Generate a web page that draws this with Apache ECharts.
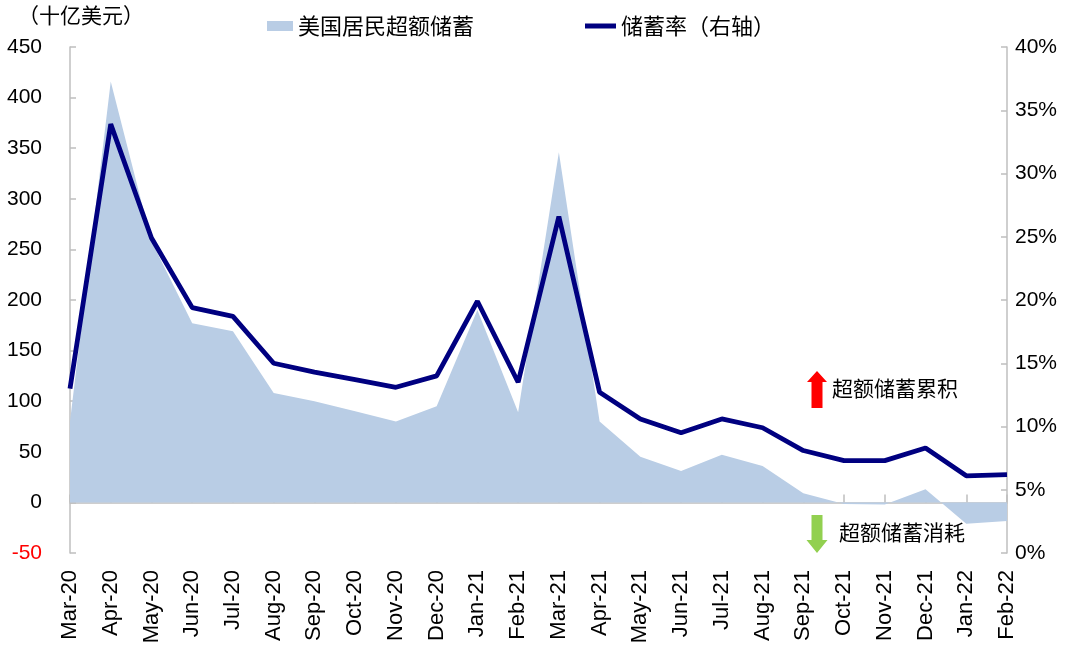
<!DOCTYPE html>
<html>
<head>
<meta charset="utf-8">
<script src="https://cdn.jsdelivr.net/npm/echarts@6/dist/echarts.min.js"></script>
<style>
html,body{margin:0;padding:0;background:#fff;}
#chart{width:1080px;height:663px;}
</style>
</head>
<body>
<div id="chart"></div>
<script>
const categories = ['Mar-20','Apr-20','May-20','Jun-20','Jul-20','Aug-20','Sep-20','Oct-20','Nov-20','Dec-20','Jan-21','Feb-21','Mar-21','Apr-21','May-21','Jun-21','Jul-21','Aug-21','Sep-21','Oct-21','Nov-21','Dec-21','Jan-22','Feb-22'];
const excessSavings = [80, 416, 258, 177, 169, 108, 100, 90, 80, 95, 190, 89, 346, 80, 45, 31, 47, 36, 9, -1.5, -2, 13, -21, -18.5];
const savingRate = [13.0, 33.9, 24.9, 19.4, 18.7, 15.0, 14.3, 13.7, 13.1, 14.0, 19.9, 13.5, 26.6, 12.7, 10.6, 9.5, 10.6, 9.9, 8.1, 7.3, 7.3, 8.3, 6.1, 6.2];
const leftTicks = {min: -50, max: 450, interval: 50};
const rightTicks = {min: 0, max: 40, interval: 5};
const seriesNames = ['美国居民超额储蓄', '储蓄率（右轴）'];

const numFont = '"Liberation Sans", Arial, sans-serif';
const cjkFont = '"Noto Sans CJK SC", sans-serif';
const axisGray = '#BFBFBF';

const chart = echarts.init(document.getElementById('chart'), null, {renderer: 'canvas'});
chart.setOption({
  animation: false,
  backgroundColor: '#ffffff',
  grid: {left: 70, right: 73, top: 47, bottom: 110, containLabel: false},
  legend: [
    {
      data: [{name: seriesNames[0], icon: 'rect'}],
      left: 262, top: 10, itemWidth: 26, itemHeight: 10, itemGap: 5,
      textStyle: {fontFamily: cjkFont, fontSize: 22, color: '#000'},
      itemStyle: {borderWidth: 0}
    },
    {
      data: [{name: seriesNames[1], icon: 'rect'}],
      left: 580, top: 10, itemWidth: 31, itemHeight: 5, itemGap: 5,
      textStyle: {fontFamily: cjkFont, fontSize: 22, color: '#000'},
      itemStyle: {borderWidth: 0}
    }
  ],
  xAxis: [
    {
      type: 'category', data: categories, boundaryGap: false, position: 'bottom',
      axisLine: {show: false, onZero: false},
      axisTick: {show: false},
      axisLabel: {rotate: 90, margin: 17, fontSize: 22, fontFamily: numFont, color: '#000', interval: 0}
    },
    {
      type: 'category', data: categories, boundaryGap: false, position: 'bottom',
      axisLine: {show: true, onZero: true, onZeroAxisIndex: 0, lineStyle: {color: axisGray, width: 1.5}},
      axisTick: {show: true, inside: true, length: 8, interval: 0, lineStyle: {color: axisGray, width: 1.5}},
      axisLabel: {show: false}
    }
  ],
  yAxis: [
    {
      type: 'value', position: 'left', min: leftTicks.min, max: leftTicks.max, interval: leftTicks.interval,
      splitLine: {show: false},
      axisLine: {show: true, lineStyle: {color: axisGray, width: 1.5}},
      axisTick: {show: true, inside: true, length: 6, lineStyle: {color: axisGray, width: 1.5}},
      axisLabel: {margin: 28, fontSize: 21, fontFamily: numFont,
        color: function (v) { return Number(v) < 0 ? '#FF0000' : '#000000'; }}
    },
    {
      type: 'value', position: 'right', min: rightTicks.min, max: rightTicks.max, interval: rightTicks.interval,
      splitLine: {show: false},
      axisLine: {show: true, lineStyle: {color: axisGray, width: 1.5}},
      axisTick: {show: true, inside: true, length: 6, lineStyle: {color: axisGray, width: 1.5}},
      axisLabel: {margin: 8, fontSize: 21, fontFamily: numFont, color: '#000', formatter: '{value}%'}
    }
  ],
  series: [
    {
      name: seriesNames[0], type: 'line', xAxisIndex: 0, yAxisIndex: 0, data: excessSavings,
      showSymbol: false, symbol: 'none',
      itemStyle: {color: '#B9CDE5'},
      lineStyle: {width: 0, color: '#B9CDE5'},
      areaStyle: {color: '#B9CDE5', opacity: 1, origin: 0},
      z: 1
    },
    {
      name: seriesNames[1], type: 'line', xAxisIndex: 0, yAxisIndex: 1, data: savingRate,
      showSymbol: false, symbol: 'none',
      itemStyle: {color: '#000080'},
      lineStyle: {width: 4.8, color: '#000080'},
      z: 3
    }
  ],
  graphic: [
    {type: 'text', left: 18, top: 5, style: {text: '（十亿美元）', font: '21px ' + cjkFont, fill: '#000'}},
    {type: 'polygon', shape: {points: [[817,371],[827,382],[822.5,382],[822.5,408],[811.5,408],[811.5,382],[807,382]]}, style: {fill: '#FF0000'}},
    {type: 'text', left: 832, top: 378, style: {text: '超额储蓄累积', font: '21px ' + cjkFont, fill: '#000'}},
    {type: 'polygon', shape: {points: [[811.5,515],[822.5,515],[822.5,540],[827.5,540],[817,553],[806.5,540],[811.5,540]]}, style: {fill: '#92D050'}},
    {type: 'text', left: 839, top: 522, style: {text: '超额储蓄消耗', font: '21px ' + cjkFont, fill: '#000'}}
  ]
});
</script>
</body>
</html>
